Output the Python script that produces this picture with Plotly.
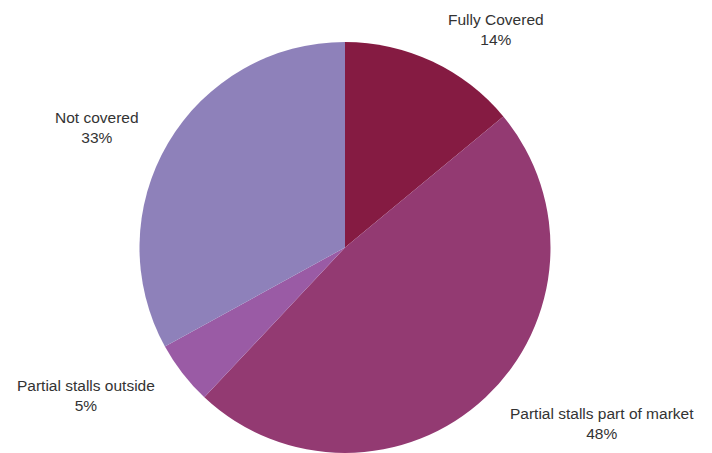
import math
import plotly.graph_objects as go

# Market coverage shares
categories = ["Fully Covered", "Partial stalls part of market", "Partial stalls outside", "Not covered"]
shares = [14, 48, 5, 33]
colors = ["#851B42", "#933A72", "#9A5BA5", "#8E81BA"]
# fine pixel nudges for each outside label (x right, y up)
label_nudge = [(7, -1), (12, 5), (-14, 7), (-15, -12)]

W, H = 712, 453
# pie geometry in pixels
top, bottom = 42, 453
radius = (bottom - top) / 2
cx, cy = 345, top + radius

fig = go.Figure(go.Pie(
    labels=categories,
    values=shares,
    marker=dict(colors=colors, line=dict(width=0)),
    sort=False,
    direction="clockwise",
    rotation=0,
    textinfo="none",
    hoverinfo="label+percent",
    showlegend=False,
    domain=dict(x=[(cx - radius) / W, (cx + radius) / W],
                y=[1 - bottom / H, 1 - top / H]),
))

# outside labels placed along each slice's mid-angle
total = sum(shares)
cum = 0
annotations = []
for name, v, (nx, ny) in zip(categories, shares, label_nudge):
    mid = 2 * math.pi * (cum + v / 2) / total
    cum += v
    dx, dy = math.sin(mid), -math.cos(mid)
    px = cx + radius * 1.07 * dx
    py = cy + radius * 1.07 * dy
    pct = round(100 * v / total)
    annotations.append(dict(
        x=px / W, y=1 - py / H, xref="paper", yref="paper",
        text=f"{name}<br>{pct}%", showarrow=False, align="center",
        xanchor="left" if dx > 0 else "right",
        yanchor="bottom" if dy < 0 else "top",
        xshift=nx, yshift=ny,
        font=dict(family="Liberation Sans, Arial, sans-serif", size=15.5, color="#333333"),
    ))

fig.update_layout(
    width=W, height=H,
    margin=dict(l=0, r=0, t=0, b=0),
    paper_bgcolor="white",
    plot_bgcolor="white",
    annotations=annotations,
)

fig.write_html("out.html")
